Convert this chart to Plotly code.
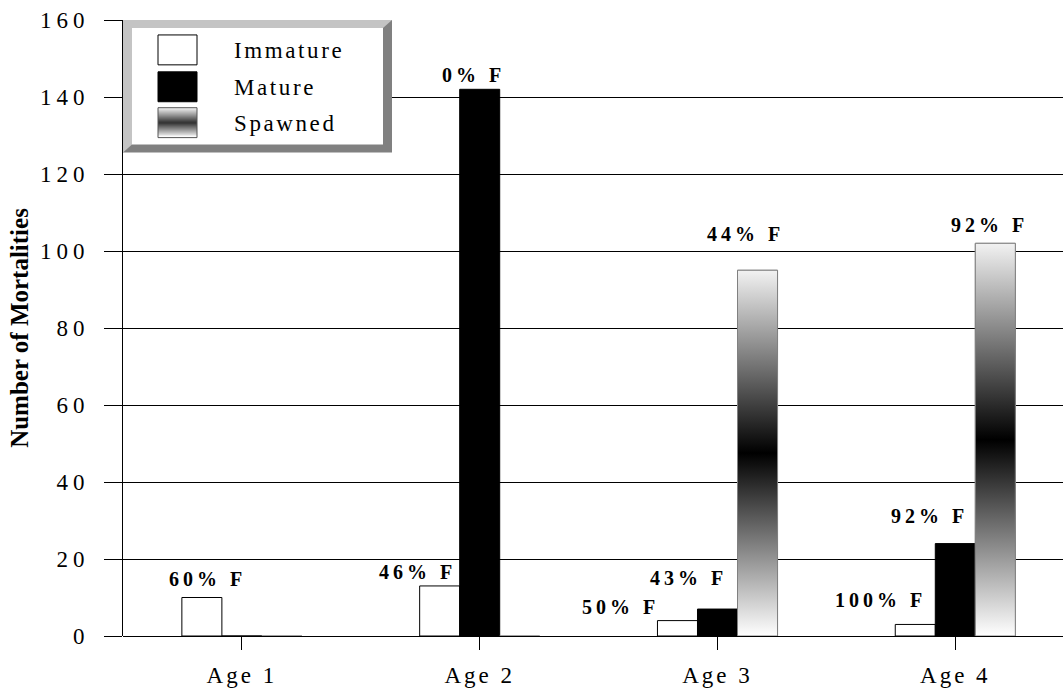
import plotly.graph_objects as go

# ---- data ----
ages = ["Age 1", "Age 2", "Age 3", "Age 4"]
immature = [10, 13, 4, 3]
mature = [0, 142, 7, 24]
spawned = [0, 0, 95, 102]
immature_pct = ["60% F", "46% F", "50% F", "100% F"]
mature_pct = [None, "0% F", "43% F", "92% F"]
spawned_pct = [None, None, "44% F", "92% F"]
y_ticks = [0, 20, 40, 60, 80, 100, 120, 140, 160]
series_names = ["Immature", "Mature", "Spawned"]

# ---- styling / layout constants ----
FONT = "Liberation Serif, Times New Roman, serif"
W_PX, H_PX = 1063, 688
L, T, R, B = 123, 20, 0, 50
PW, PH = W_PX - L - R, H_PX - T - B
BARGAP = 0.495
bw = (1 - BARGAP) / 3          # width of one bar in category units
unit_px = 237.8
x_hi = -0.5 + PW / unit_px


def spaced(text, px):
    return f"<span style='letter-spacing:{px}px'>{text}</span>"


def px(x):
    return (x - L) / PW


def py(y):
    return 1 - (y - T) / PH


xs = list(range(len(ages)))

fig = go.Figure()
fig.add_trace(go.Bar(x=xs, y=immature, name=series_names[0], showlegend=False,
                     marker=dict(color="white", line=dict(color="black", width=1))))
fig.add_trace(go.Bar(x=xs, y=mature, name=series_names[1], showlegend=False,
                     marker=dict(color="black", line=dict(color="black", width=1))))
fig.add_trace(go.Bar(x=xs, y=spawned, name=series_names[2], showlegend=False,
                     marker=dict(color="rgba(0,0,0,0)", line=dict(color="#808080", width=1))))

GRAD = [[0, "#ffffff"], [0.5, "#000000"], [1, "#f2f2f2"]]
# gradient fill for each spawned bar (same slot as the spawned bar trace)
for i, v in enumerate(spawned):
    if v <= 0:
        continue
    x0, x1 = i + bw / 2, i + 3 * bw / 2
    fig.add_trace(go.Scatter(
        x=[x0, x0, x1, x1, x0], y=[0, v, v, 0, 0],
        mode="lines", fill="toself", name=series_names[2], showlegend=False,
        hoverinfo="skip", line=dict(color="#808080", width=1),
        fillgradient=dict(type="vertical", colorscale=GRAD),
    ))

# ---- percentage labels ----
# pixel offsets (dx, dy) of each label centre from its bar top
imm_off = [(4, 19), (-24, 14), (-59, 14), (-37, 24)]
mat_off = [None, (-8, 14), (-31, 31), (-28, 28)]
spw_off = [None, None, (-14, 36), (-8, 18)]
annots = []
for series, labels, offs, slot in ((immature, immature_pct, imm_off, -1),
                                   (mature, mature_pct, mat_off, 0),
                                   (spawned, spawned_pct, spw_off, 1)):
    for i, (v, lab) in enumerate(zip(series, labels)):
        if lab is None:
            continue
        dx, dy = offs[i]
        annots.append(dict(x=i + slot * bw, y=v, text=spaced(lab, 4), showarrow=False,
                           xshift=dx + 2, yshift=dy, yanchor="middle", xanchor="center",
                           font=dict(family=FONT, size=20, color="black", weight="bold")))

# ---- legend box with bevel frame ----
ox0, oy0, ox1, oy1 = 123, 20, 392, 153
ix0, iy0, ix1, iy1 = 132, 28, 383, 145
shapes = [
    dict(type="rect", xref="paper", yref="paper", x0=px(ox0), x1=px(ox1), y0=py(oy1), y1=py(oy0),
         fillcolor="#808080", line=dict(width=0), layer="above"),
    dict(type="path", xref="paper", yref="paper", layer="above", fillcolor="#c4c4c4", line=dict(width=0),
         path=(f"M{px(ox0)},{py(oy0)} L{px(ox1)},{py(oy0)} L{px(ix1)},{py(iy0)} "
               f"L{px(ix0)},{py(iy0)} L{px(ix0)},{py(iy1)} L{px(ox0)},{py(oy1)} Z")),
    dict(type="rect", xref="paper", yref="paper", x0=px(ix0), x1=px(ix1), y0=py(iy1), y1=py(iy0),
         fillcolor="white", line=dict(width=0), layer="above"),
]
sw_x0, sw_x1 = 158, 197
sw_rows = [(35, 65), (72, 102), (108, 138)]
# immature swatch
shapes.append(dict(type="rect", xref="paper", yref="paper", layer="above",
                   x0=px(sw_x0), x1=px(sw_x1), y0=py(sw_rows[0][1]), y1=py(sw_rows[0][0]),
                   fillcolor="white", line=dict(color="black", width=1)))
# mature swatch
shapes.append(dict(type="rect", xref="paper", yref="paper", layer="above",
                   x0=px(sw_x0), x1=px(sw_x1), y0=py(sw_rows[1][1]), y1=py(sw_rows[1][0]),
                   fillcolor="black", line=dict(color="black", width=1)))
# spawned swatch (gradient built from thin strips)
g0, g1 = sw_rows[2]
n = g1 - g0
for k in range(n):
    t = k / (n - 1)                     # 0 at top, 1 at bottom
    d = abs(t - 0.5) * 2                # 0 in middle, 1 at edges
    c = int(round(238 * d if t < 0.5 else 255 * d))
    shapes.append(dict(type="rect", xref="paper", yref="paper", layer="above",
                       x0=px(sw_x0), x1=px(sw_x1), y0=py(g0 + k + 1), y1=py(g0 + k),
                       fillcolor=f"rgb({c},{c},{c})", line=dict(width=0)))
shapes.append(dict(type="rect", xref="paper", yref="paper", layer="above",
                   x0=px(sw_x0), x1=px(sw_x1), y0=py(g1), y1=py(g0),
                   fillcolor="rgba(0,0,0,0)", line=dict(color="#555555", width=1)))
for name, (r0, r1) in zip(series_names, sw_rows):
    annots.append(dict(xref="paper", yref="paper", x=px(232), y=py((r0 + r1) / 2 + 1),
                       xanchor="left", yanchor="middle", showarrow=False,
                       text=spaced(name, 2.6),
                       font=dict(family=FONT, size=23, color="black")))

fig.update_layout(
    width=W_PX, height=H_PX,
    margin=dict(l=L, r=R, t=T, b=B, pad=0),
    paper_bgcolor="white", plot_bgcolor="white",
    barmode="group", bargap=BARGAP, bargroupgap=0,
    font=dict(family=FONT, size=22, color="black"),
    showlegend=False,
    annotations=annots,
    shapes=shapes,
    xaxis=dict(range=[-0.5, x_hi], tickmode="array", tickvals=xs,
               ticktext=[spaced(a, 3) for a in ages],
               showgrid=False, zeroline=False, showline=False,
               ticks="outside", ticklen=13, tickcolor="black", tickwidth=1,
               ticklabelstandoff=5,
               tickfont=dict(family=FONT, size=23, color="black")),
    yaxis=dict(range=[0, 160], tickmode="array", tickvals=y_ticks,
               ticktext=[spaced(v, 5) for v in y_ticks],
               showgrid=True, gridcolor="black", gridwidth=1,
               zeroline=True, zerolinecolor="black", zerolinewidth=1,
               showline=True, linecolor="black", linewidth=1,
               ticks="outside", ticklen=18, tickcolor="black", tickwidth=1,
               ticklabelstandoff=10,
               tickfont=dict(family=FONT, size=23, color="black"),
               title=dict(text="Number of Mortalities", standoff=4,
                          font=dict(family=FONT, size=25, color="black", weight="bold"))),
)

fig.write_html("out.html",
               config={"displayModeBar": False},
               post_script="document.body.style.margin='0';document.body.style.overflow='hidden';")
